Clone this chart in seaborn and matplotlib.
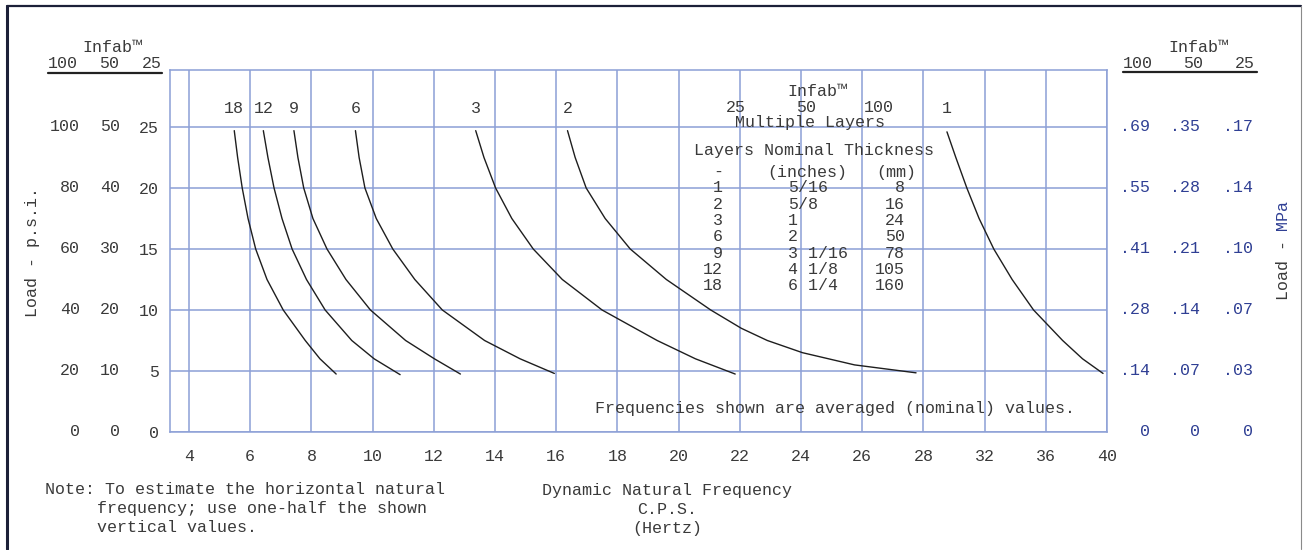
import numpy as np
import pandas as pd
import seaborn as sns
import matplotlib
matplotlib.use("Agg")
import matplotlib.pyplot as plt
from matplotlib import transforms
from matplotlib.lines import Line2D

# curves: frequency (Hz) vs load (25-scale units)
freq_18 = [5.48, 5.59, 5.74, 5.93, 6.18, 6.55, 7.08, 7.80, 8.28, 8.81]
load_18 = [24.7, 22.5, 20.0, 17.5, 15.0, 12.5, 10.0, 7.5, 6.0, 4.75]
freq_12 = [6.43, 6.58, 6.78, 7.04, 7.37, 7.84, 8.45, 9.32, 10.05, 10.90]
load_12 = [24.7, 22.5, 20.0, 17.5, 15.0, 12.5, 10.0, 7.5, 6.0, 4.7]
freq_9 = [7.43, 7.56, 7.75, 8.05, 8.51, 9.13, 9.93, 11.08, 12.02, 12.87]
load_9 = [24.7, 22.5, 20.0, 17.5, 15.0, 12.5, 10.0, 7.5, 6.0, 4.75]
freq_6 = [9.44, 9.56, 9.75, 10.12, 10.66, 11.38, 12.28, 13.66, 14.82, 15.94]
load_6 = [24.7, 22.5, 20.0, 17.5, 15.0, 12.5, 10.0, 7.5, 6.0, 4.8]
freq_3 = [13.37, 13.64, 14.02, 14.55, 15.25, 16.2, 17.5, 19.3, 20.55, 21.85]
load_3 = [24.7, 22.5, 20.0, 17.5, 15.0, 12.5, 10.0, 7.5, 6.0, 4.75]
freq_2 = [16.37, 16.62, 16.98, 17.6, 18.42, 19.6, 21.05, 22.05, 22.9, 24.05, 25.75, 27.76]
load_2 = [24.7, 22.5, 20.0, 17.5, 15.0, 12.5, 10.0, 8.5, 7.5, 6.5, 5.5, 4.85]
freq_1 = [29.54, 30.12, 30.84, 31.64, 32.6, 33.8, 35.2, 37.1, 38.4, 39.74]
load_1 = [24.6, 22.5, 20.0, 17.5, 15.0, 12.5, 10.0, 7.5, 6.0, 4.8]

curves = {18: (freq_18, load_18), 12: (freq_12, load_12), 9: (freq_9, load_9),
          6: (freq_6, load_6), 3: (freq_3, load_3), 2: (freq_2, load_2),
          1: (freq_1, load_1)}

x_ticks = [4, 6, 8, 10, 12, 14, 16, 18, 20, 22, 24, 26, 28, 32, 36, 40]
y_ticks = [0, 5, 10, 15, 20, 25]
psi_100 = ["0", "20", "40", "60", "80", "100"]
psi_50 = ["0", "10", "20", "30", "40", "50"]
psi_25 = ["0", "5", "10", "15", "20", "25"]
mpa_100 = ["0", ".14", ".28", ".41", ".55", ".69"]
mpa_50 = ["0", ".07", ".14", ".21", ".28", ".35"]
mpa_25 = ["0", ".03", ".07", ".10", ".14", ".17"]

layers = ["1", "2", "3", "6", "9", "12", "18"]
inches = ["5/16", "5/8", "1", "2", "3 1/16", "4 1/8", "6 1/4"]
mm = ["8", "16", "24", "50", "78", "105", "160"]

sns.set_style("white")
plt.rcParams["font.family"] = ["Liberation Mono", "DejaVu Sans Mono"]

W, H = 1304, 550
TXT = "#3a3a3a"
BLUE = "#2f3f94"
GRID = "#8c9fd6"
FS = 12

fig = plt.figure(figsize=(W / 100, H / 100), dpi=100)
ax = fig.add_axes([170 / W, 1 - 432 / H, (1107 - 170) / W, (432 - 70) / H])


def fwd(x):
    x = np.asarray(x, dtype=float)
    return np.where(x <= 28, x, 28 + (x - 28) / 2)


def inv(u):
    u = np.asarray(u, dtype=float)
    return np.where(u <= 28, u, 28 + 2 * (u - 28))


ax.set_xscale("function", functions=(fwd, inv))
ax.set_xlim(3.38, 40)
ax.set_ylim(0, 29.67)

rows = []
for n, (f, l) in curves.items():
    for a, b in zip(f, l):
        rows.append({"layers": n, "freq": a, "load": b})
df = pd.DataFrame(rows)
sns.lineplot(data=df, x="freq", y="load", units="layers", estimator=None,
             sort=False, color="#1e1e1e", lw=1.0, ax=ax)

ax.set_xticks(x_ticks)
ax.set_xticklabels([str(t) for t in x_ticks])
ax.set_yticks(y_ticks)
ax.set_yticklabels(psi_25)
ax.tick_params(axis="both", length=0, labelsize=FS, colors=TXT)
ax.tick_params(axis="x", pad=12)
ax.tick_params(axis="y", pad=8)
ax.grid(True, color=GRID, lw=1.1)
for s in ax.spines.values():
    s.set_color(GRID)
    s.set_linewidth(1.1)
ax.set_xlabel("")
ax.set_ylabel("")

# curve labels at the top of each curve
for n, (f, l) in curves.items():
    ax.text(f[0], 26.5, str(n), ha="center", va="center", fontsize=FS, color=TXT)

# extra y label columns
bt = transforms.blended_transform_factory(fig.transFigure, ax.transData)
for y, a, b in zip(y_ticks, psi_100, psi_50):
    ax.text(80 / W, y, a, transform=bt, ha="right", va="center", fontsize=FS, color=TXT)
    ax.text(120 / W, y, b, transform=bt, ha="right", va="center", fontsize=FS, color=TXT)
for y, a, b, c in zip(y_ticks, mpa_100, mpa_50, mpa_25):
    ax.text(1150 / W, y, a, transform=bt, ha="right", va="center", fontsize=FS, color=BLUE)
    ax.text(1200 / W, y, b, transform=bt, ha="right", va="center", fontsize=FS, color=BLUE)
    ax.text(1253 / W, y, c, transform=bt, ha="right", va="center", fontsize=FS, color=BLUE)


def t(x, y, s, ha="center", color=TXT, **kw):
    fig.text(x / W, 1 - y / H, s, ha=ha, va="center", fontsize=FS, color=color, **kw)


def hline(x0, x1, y, color="#222", lw=1.6):
    fig.add_artist(Line2D([x0 / W, x1 / W], [1 - y / H, 1 - y / H], color=color, lw=lw))


# headers
t(112, 48, "Infab\u2122")
t(78, 64, "100", ha="right")
t(119, 64, "50", ha="right")
t(162, 64, "25", ha="right")
hline(48, 162, 73)
t(1198, 48, "Infab\u2122")
t(1153, 63, "100", ha="right")
t(1203, 63, "50", ha="right")
t(1255, 63, "25", ha="right")
hline(1123, 1257, 72)

# axis titles
t(32, 252, "Load - p.s.i.", rotation=90)
t(1283, 270, "Load -", rotation=90)
t(1283, 215, "MPa", rotation=90, color=BLUE)

# layers table
t(817, 92, "Infab\u2122")
t(736, 108, "25")
t(806, 108, "50")
t(879, 108, "100")
t(810, 123, "Multiple Layers")
t(694, 151, "Layers Nominal Thickness", ha="left")
t(718, 172, "-")
t(807, 172, "(inches)")
t(896, 172, "(mm)")
for i, (a, b, c) in enumerate(zip(layers, inches, mm)):
    yy = 188 + i * 16.3
    t(723, yy, a, ha="right")
    t(788, yy, b, ha="left")
    t(905, yy, c, ha="right")

t(595, 409, "Frequencies shown are averaged (nominal) values.", ha="left")

# bottom notes
t(45, 490, "Note: To estimate the horizontal natural", ha="left")
t(97, 509, "frequency; use one-half the shown", ha="left")
t(97, 528, "vertical values.", ha="left")
t(667, 490, "Dynamic Natural Frequency")
t(667, 509, "C.P.S.")
t(667, 528, "(Hertz)")

# page frame
fig.add_artist(Line2D([7 / W, 7 / W], [1 - 549 / H, 1 - 6 / H], color="#1c2038", lw=2.2))
hline(7, 1301, 6, color="#1c2038", lw=1.6)
fig.add_artist(Line2D([1301 / W, 1301 / W], [1 - 549 / H, 1 - 6 / H], color="#8a8a8a", lw=0.8))

fig.savefig("out.png", dpi=100)
